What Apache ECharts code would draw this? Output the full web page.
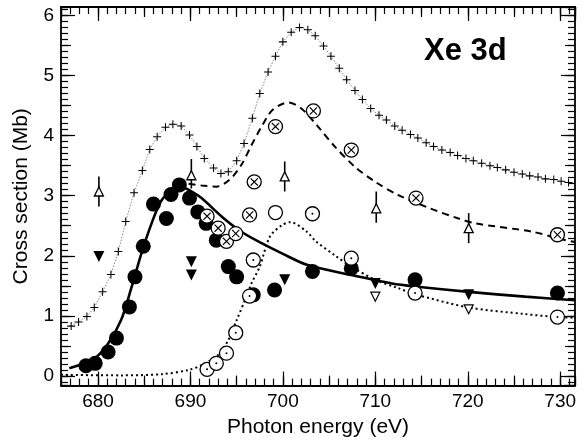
<!DOCTYPE html>
<html>
<head>
<meta charset="utf-8">
<script src="https://cdn.jsdelivr.net/npm/echarts@6/dist/echarts.min.js"></script>
<style>html,body{margin:0;padding:0;background:#fff}#c{width:586px;height:443px}</style>
</head>
<body>
<div id="c"></div>
<script>
// ---- data ----
const plusCurve = [[677.1,0.83],[677.9,0.90],[678.8,0.99],[679.6,1.14],[680.5,1.40],[681.4,1.69],[682.2,2.07],[683.0,2.57],[683.9,3.05],[684.8,3.42],[685.6,3.77],[686.4,3.98],[687.3,4.14],[688.1,4.19],[689.0,4.16],[689.9,4.01],[690.7,3.82],[691.5,3.62],[692.5,3.46],[693.3,3.37],[694.1,3.40],[695.0,3.58],[695.8,3.87],[696.7,4.29],[697.5,4.70],[698.4,5.06],[699.2,5.32],[700.0,5.56],[700.9,5.72],[701.8,5.80],[702.7,5.76],[703.5,5.66],[704.4,5.49],[705.2,5.32],[706.1,5.12],[706.9,4.93],[707.8,4.75],[708.6,4.60],[709.5,4.45],[710.4,4.34],[711.2,4.26],[712.1,4.16],[712.9,4.09],[713.8,4.02],[714.6,3.96],[715.5,3.88],[716.3,3.82],[717.2,3.76],[718.1,3.72],[718.9,3.67],[719.8,3.62],[720.6,3.58],[721.5,3.54],[722.4,3.50],[723.2,3.47],[724.1,3.43],[725.0,3.39],[725.9,3.36],[726.7,3.33],[727.6,3.31],[728.4,3.28],[729.3,3.27],[730.1,3.24],[730.9,3.22]];
const dashedCurve = [[689.8,3.20],[691.2,3.17],[692.8,3.15],[694.2,3.26],[695.5,3.51],[696.6,3.84],[697.7,4.15],[698.9,4.43],[700.6,4.55],[702.0,4.45],[703.8,4.15],[705.6,3.82],[707.8,3.48],[710.0,3.23],[712.5,3.01],[715.9,2.79],[719.0,2.62],[720.8,2.54],[727.0,2.40],[730.0,2.28],[731.6,2.23]];
const solidCurve = [[676.9,0.13],[679.6,0.29],[681.1,0.54],[682.5,0.93],[683.6,1.46],[684.7,2.04],[685.8,2.54],[686.9,2.93],[688.3,3.11],[689.2,3.13],[690.0,3.08],[691.2,2.96],[693.4,2.65],[695.5,2.40],[697.7,2.21],[699.9,2.04],[702.6,1.85],[707.4,1.68],[711.8,1.54],[714.3,1.49],[720.1,1.40],[726.2,1.32],[731.6,1.26]];
const dottedCurve = [[676.0,0.02],[682.5,0.01],[686.9,0.03],[689.8,0.10],[691.2,0.18],[693.0,0.35],[694.1,0.60],[695.0,0.93],[695.9,1.26],[696.6,1.54],[697.5,1.82],[698.6,2.32],[699.9,2.51],[700.8,2.56],[702.6,2.40],[703.5,2.25],[705.6,2.01],[707.4,1.82],[710.0,1.60],[712.5,1.46],[714.3,1.36],[720.1,1.14],[726.2,1.03],[729.7,0.98],[731.6,0.97]];
const filledCircles = [[678.7,0.17],[679.7,0.21],[681.1,0.40],[682.0,0.63],[683.4,1.15],[684.0,1.65],[684.9,2.16],[686.0,2.86],[687.4,2.62],[687.9,3.02],[688.8,3.18],[689.9,2.96],[690.8,2.73],[691.7,2.54],[692.8,2.26],[694.1,1.82],[695.0,1.65],[696.8,1.35],[699.1,1.43],[703.2,1.74],[707.4,1.79],[714.3,1.60],[729.7,1.38]];
const openDotCircles = [[691.8,0.11],[692.8,0.21],[693.9,0.38],[694.9,0.72],[696.4,1.33],[696.8,1.93],[703.2,2.70],[707.4,1.96],[714.3,1.38],[729.7,0.98]];
const openCircles = [[699.2,2.72]];
const crossCircles = [[691.8,2.66],[693.0,2.46],[693.9,2.24],[694.9,2.37],[696.4,2.68],[696.9,3.23],[699.2,4.15],[703.3,4.41],[707.4,3.76],[714.4,2.96],[729.7,2.35]];
const filledDownTri = [[680.1,1.99],[690.1,1.90],[690.1,1.68],[700.2,1.60],[710.0,1.54],[720.1,1.35]];
const openDownTri = [[710.0,1.32],[720.1,1.11]];
const openUpTri = [[680.1,3.07],[690.1,3.34],[700.2,3.32],[710.1,2.79],[720.1,2.46]];
const errorBars = [[680.1,2.82,3.32],[690.1,3.12,3.61],[700.2,3.07,3.57],[710.1,2.55,3.07],[720.1,2.21,2.71]];
const xRange = [676, 731.6];
const yRange = [-0.16, 6.14];
const titleText = 'Xe 3d';
const xName = 'Photon energy (eV)';
const yName = 'Cross section (Mb)';

// ---- chart ----
const FONT = '"Liberation Sans", Arial, Helvetica, sans-serif';
const PLUS = 'path://M-0.13,-1H0.13V-0.13H1V0.13H0.13V1H-0.13V0.13H-1V-0.13H-0.13Z';
const XMARK = 'path://M-1,-0.8L-0.8,-1L0,-0.2L0.8,-1L1,-0.8L0.2,0L1,0.8L0.8,1L0,0.2L-0.8,1L-1,0.8L-0.2,0Z';

function mkX(pos, split, len, withLabel, withLine) {
  return {
    type: 'value', position: pos, min: xRange[0], max: xRange[1], splitNumber: split,
    name: withLabel ? xName : '', nameLocation: 'middle', nameGap: 27,
    nameTextStyle: {fontFamily: FONT, fontSize: 21, color: '#000'},
    axisLine: {show: withLine, onZero: false, lineStyle: {color: '#000', width: 1.8}},
    axisTick: {show: true, inside: true, length: len, lineStyle: {color: '#000', width: 1.2}},
    axisLabel: {show: withLabel, showMinLabel: false, showMaxLabel: false, margin: 7,
      fontFamily: FONT, fontSize: 19, color: '#000'},
    splitLine: {show: false}
  };
}
function mkY(pos, split, len, withLabel, withLine) {
  return {
    type: 'value', position: pos, min: yRange[0], max: yRange[1], splitNumber: split,
    name: withLabel ? yName : '', nameLocation: 'middle', nameGap: 29,
    nameTextStyle: {fontFamily: FONT, fontSize: 21, color: '#000'},
    axisLine: {show: withLine, onZero: false, lineStyle: {color: '#000', width: 1.8}},
    axisTick: {show: true, inside: true, length: len, lineStyle: {color: '#000', width: 1.2}},
    axisLabel: {show: withLabel, showMinLabel: false, showMaxLabel: false, margin: 7,
      fontFamily: FONT, fontSize: 19, color: '#000'},
    splitLine: {show: false}
  };
}

const chart = echarts.init(document.getElementById('c'), null, {renderer: 'canvas'});
const option = {
  animation: false,
  backgroundColor: '#fff',
  grid: {left: 61, right: 11, top: 7, bottom: 57.4, containLabel: false},
  xAxis: [
    mkX('bottom', 5, 14, true, true), mkX('bottom', 11, 10, false, false), mkX('bottom', 50, 7, false, false),
    mkX('top', 5, 14, false, true), mkX('top', 11, 10, false, false), mkX('top', 50, 7, false, false)
  ],
  yAxis: [
    mkY('left', 6, 14, true, true), mkY('left', 12, 10, false, false), mkY('left', 60, 7, false, false),
    mkY('right', 6, 14, false, true), mkY('right', 12, 10, false, false), mkY('right', 60, 7, false, false)
  ],
  graphic: [{
    type: 'text', left: 424, top: 36,
    style: {text: titleText, font: 'bold 31px ' + FONT, fill: '#000'}
  }],
  series: [
    {type: 'line', data: plusCurve, symbol: PLUS, symbolSize: 8, showSymbol: true,
      lineStyle: {color: '#888', width: 1, type: [1.5, 1.5]}, itemStyle: {color: '#000', opacity: 1}, z: 2},
    {type: 'line', data: dottedCurve, smooth: 0.3, showSymbol: false,
      lineStyle: {color: '#000', width: 2, type: [2, 3]}, z: 2},
    {type: 'line', data: dashedCurve, smooth: 0.3, showSymbol: false,
      lineStyle: {color: '#000', width: 2, type: [7, 5]}, z: 2},
    {type: 'line', data: solidCurve, smooth: 0.3, showSymbol: false,
      lineStyle: {color: '#000', width: 2.6}, z: 2},
    {type: 'scatter', data: filledCircles, symbol: 'circle', symbolSize: 15,
      itemStyle: {color: '#000', opacity: 1}, z: 3},
    {type: 'scatter', data: filledDownTri, symbol: 'triangle', symbolRotate: 180, symbolSize: 11,
      itemStyle: {color: '#000', opacity: 1}, z: 3},
    {type: 'custom', data: errorBars, encode: {x: 0, y: [1, 2]}, z: 3,
      renderItem: function (params, api) {
        const p1 = api.coord([api.value(0), api.value(1)]);
        const p2 = api.coord([api.value(0), api.value(2)]);
        return {type: 'line', shape: {x1: p1[0], y1: p1[1], x2: p2[0], y2: p2[1]},
          style: {stroke: '#000', lineWidth: 1.6}};
      }},
    {type: 'scatter', data: openUpTri, symbol: 'triangle', symbolSize: 9,
      itemStyle: {color: '#fff', borderColor: '#000', borderWidth: 1.3, opacity: 1}, z: 4},
    {type: 'scatter', data: openDownTri, symbol: 'triangle', symbolRotate: 180, symbolSize: 9,
      itemStyle: {color: '#fff', borderColor: '#000', borderWidth: 1.2, opacity: 1}, z: 4},
    {type: 'scatter', data: openDotCircles, symbol: 'circle', symbolSize: 14,
      itemStyle: {color: '#fff', borderColor: '#000', borderWidth: 1.3, opacity: 1}, z: 4},
    {type: 'scatter', data: openDotCircles, symbol: 'circle', symbolSize: 2,
      itemStyle: {color: '#000', opacity: 1}, z: 5},
    {type: 'scatter', data: openCircles, symbol: 'circle', symbolSize: 14,
      itemStyle: {color: '#fff', borderColor: '#000', borderWidth: 1.3, opacity: 1}, z: 4},
    {type: 'scatter', data: crossCircles, symbol: 'circle', symbolSize: 14,
      itemStyle: {color: '#fff', borderColor: '#000', borderWidth: 1.3, opacity: 1}, z: 4},
    {type: 'scatter', data: crossCircles, symbol: XMARK, symbolSize: 8,
      itemStyle: {color: '#000', opacity: 1}, z: 5}
  ]
};
chart.setOption(option);
</script>
</body>
</html>
